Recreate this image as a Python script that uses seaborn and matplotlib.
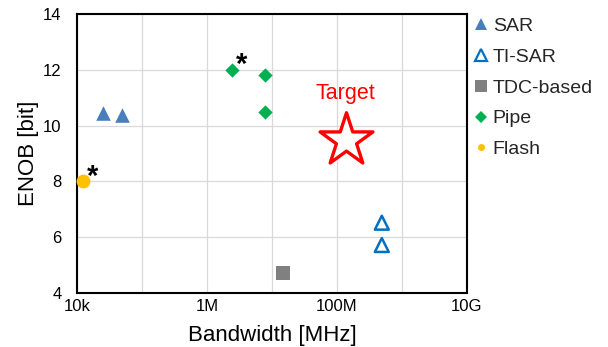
import matplotlib
matplotlib.use("Agg")
import matplotlib.pyplot as plt
from matplotlib.lines import Line2D
import seaborn as sns
import pandas as pd

# ADC survey: bandwidth vs. effective number of bits
sar_bw = [2.5e4, 5.0e4]
sar_enob = [10.45, 10.38]
tisar_bw = [4.9e8, 4.9e8]
tisar_enob = [6.52, 5.72]
tdc_bw = [1.5e7]
tdc_enob = [4.7]
pipe_bw = [2.45e6, 7.9e6, 7.9e6]
pipe_enob = [12.0, 11.8, 10.5]
flash_bw = [1.25e4]
flash_enob = [8.0]
target_bw = [1.37e8]
target_enob = [9.5]

legend_labels = ["SAR", "TI-SAR", "TDC-based", "Pipe", "Flash"]
x_ticks = [1e4, 1e5, 1e6, 1e7, 1e8, 1e9, 1e10]
x_tick_labels = ["10k", "", "1M", "", "100M", "", "10G"]
y_ticks = [4, 6, 8, 10, 12, 14]

sns.set_theme(style="white")
plt.rcParams["font.family"] = ["Liberation Sans", "DejaVu Sans"]

fig = plt.figure(figsize=(6.08, 3.47), dpi=100)
ax = fig.add_axes([0.1266, 0.1556, 0.6414, 0.8041])

c_sar = "#4A7EBB"
c_tisar = "#0070C0"
c_tdc = "#808080"
c_pipe = "#00B050"
c_flash = "#FFC000"
c_target = "#FF0000"

def frame(bw, enob):
    return pd.DataFrame({"bw": bw, "enob": enob})

sns.scatterplot(data=frame(sar_bw, sar_enob), x="bw", y="enob", ax=ax,
                marker="^", s=110, color=c_sar, linewidth=0, zorder=3)
sns.scatterplot(data=frame(tisar_bw, tisar_enob), x="bw", y="enob", ax=ax,
                marker="^", s=100, facecolor="none", edgecolor=c_tisar,
                linewidth=1.8, zorder=3)
sns.scatterplot(data=frame(tdc_bw, tdc_enob), x="bw", y="enob", ax=ax,
                marker="s", s=106, color=c_tdc, linewidth=0, zorder=3)
sns.scatterplot(data=frame(pipe_bw, pipe_enob), x="bw", y="enob", ax=ax,
                marker="D", s=53, color=c_pipe, linewidth=0, zorder=3)
sns.scatterplot(data=frame(flash_bw, flash_enob), x="bw", y="enob", ax=ax,
                marker="o", s=100, color=c_flash, linewidth=0, zorder=3,
                clip_on=False)
sns.scatterplot(data=frame(target_bw, target_enob), x="bw", y="enob", ax=ax,
                marker="*", s=1600, facecolor="white", edgecolor=c_target,
                linewidth=2.4, zorder=3)

ax.annotate("Target", (target_bw[0], target_enob[0]), xytext=(0, 33),
            textcoords="offset points", ha="center", va="center",
            color=c_target, fontsize=15.5)

# asterisks flagging selected designs
for bw, enob in [(pipe_bw[0], pipe_enob[0]), (flash_bw[0], flash_enob[0])]:
    ax.annotate("*", (bw, enob), xytext=(6.5, 3.5), textcoords="offset points",
                ha="center", va="center", fontsize=21, fontweight="bold",
                color="black")

ax.set_xscale("log")
ax.set_xlim(1e4, 1e10)
ax.set_ylim(4, 14)
ax.set_xticks(x_ticks)
ax.set_xticklabels(x_tick_labels)
ax.minorticks_off()
ax.set_yticks(y_ticks)
ax.tick_params(axis="both", length=0, labelsize=12, colors="black")
ax.tick_params(axis="y", pad=11)
ax.tick_params(axis="x", pad=4.5)
ax.grid(True, color="#D9D9D9", linewidth=0.9)
ax.set_axisbelow(True)
for sp in ax.spines.values():
    sp.set_color("black")
    sp.set_linewidth(1.5)

ax.set_xlabel("Bandwidth [MHz]", fontsize=16, color="black", labelpad=8)
ax.set_ylabel("ENOB [bit]", fontsize=16, color="black", labelpad=3)

handles = [
    Line2D([], [], ls="none", marker="^", ms=8.6, color=c_sar, mew=0),
    Line2D([], [], ls="none", marker="^", ms=8.0, mfc="none", mec=c_tisar, mew=1.6),
    Line2D([], [], ls="none", marker="s", ms=8.0, color=c_tdc, mew=0),
    Line2D([], [], ls="none", marker="D", ms=6.0, color=c_pipe, mew=0),
    Line2D([], [], ls="none", marker="o", ms=5.0, color=c_flash, mew=0),
]
fig.legend(handles, legend_labels, loc="upper left",
           bbox_to_anchor=(0.78, 0.95), frameon=False, fontsize=14,
           handlelength=0.7, handletextpad=0.25, labelspacing=0.68,
           borderaxespad=0, borderpad=0)

fig.savefig("out.png", dpi=100)
